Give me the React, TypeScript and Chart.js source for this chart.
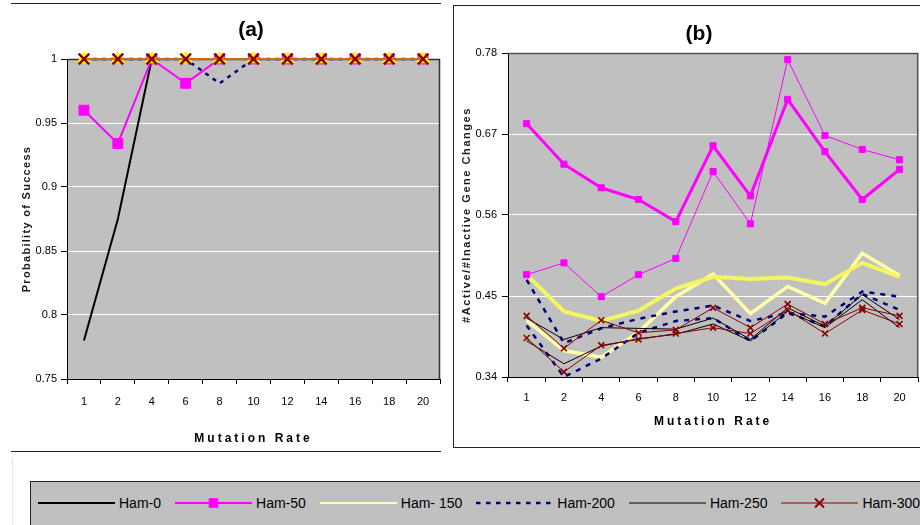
import React, { useEffect, useRef } from 'react';
import { Chart, registerables } from 'chart.js';

Chart.register(...registerables);

const FONT = 'Arial, "Liberation Sans", Helvetica, sans-serif';

// ---------------- data ----------------
const mutationRates = ['1', '2', '4', '6', '8', '10', '12', '14', '16', '18', '20'];
const seriesNames = ['Ham-0', 'Ham-50', 'Ham- 150', 'Ham-200', 'Ham-250', 'Ham-300'];

const yTicksA = [0.75, 0.8, 0.85, 0.9, 0.95, 1];
const yTicksB = [0.34, 0.45, 0.56, 0.67, 0.78];

// (a) Probability of success
const successHam0 = [0.78, 0.875, 1, 1, 1, 1, 1, 1, 1, 1, 1];
const successHam50 = [0.96, 0.934, 1, 0.981, 1, 1, 1, 1, 1, 1, 1];
const successHam150 = [1, 1, 1, 1, 1, 1, 1, 1, 1, 1, 1];
const successHam200 = [1, 1, 1, 1, 0.981, 1, 1, 1, 1, 1, 1];
const successHam250 = [1, 1, 1, 1, 1, 1, 1, 1, 1, 1, 1];
const successHam300 = [1, 1, 1, 1, 1, 1, 1, 1, 1, 1, 1];

// (b) #Active/#Inactive gene changes (two runs per Hamming setting)
const ratioHam50A = [0.684, 0.629, 0.597, 0.581, 0.551, 0.654, 0.586, 0.717, 0.646, 0.581, 0.622];
const ratioHam50B = [0.479, 0.495, 0.449, 0.479, 0.501, 0.619, 0.548, 0.771, 0.668, 0.649, 0.635];
const ratioHam150A = [0.479, 0.429, 0.416, 0.43, 0.46, 0.476, 0.473, 0.475, 0.466, 0.495, 0.476];
const ratioHam150B = [0.417, 0.376, 0.367, 0.401, 0.449, 0.48, 0.426, 0.463, 0.44, 0.508, 0.478];
const ratioHam200A = [0.472, 0.386, 0.406, 0.419, 0.429, 0.437, 0.416, 0.427, 0.422, 0.456, 0.449];
const ratioHam200B = [0.41, 0.34, 0.365, 0.4, 0.416, 0.42, 0.389, 0.427, 0.409, 0.453, 0.431];
const ratioHam250A = [0.42, 0.391, 0.407, 0.406, 0.405, 0.42, 0.391, 0.434, 0.409, 0.452, 0.418];
const ratioHam250B = [0.389, 0.358, 0.382, 0.392, 0.398, 0.412, 0.389, 0.429, 0.407, 0.445, 0.407];
const ratioHam300A = [0.423, 0.379, 0.417, 0.4, 0.404, 0.434, 0.407, 0.439, 0.412, 0.434, 0.423];
const ratioHam300B = [0.393, 0.347, 0.383, 0.391, 0.399, 0.407, 0.399, 0.431, 0.399, 0.431, 0.412];

// ---------------- plugins ----------------
const plotFrame = {
  id: 'plotFrame',
  beforeDraw(chart: any, _a: any, opts: any) {
    const { ctx, chartArea: a } = chart;
    ctx.save();
    ctx.fillStyle = opts.fill;
    ctx.fillRect(a.left, a.top, a.right - a.left, a.bottom - a.top);
    ctx.restore();
  },
  beforeDatasetsDraw(chart: any, _a: any, opts: any) {
    const { ctx, chartArea: a } = chart;
    ctx.save();
    ctx.strokeStyle = opts.stroke;
    ctx.lineWidth = opts.width || 1.5;
    ctx.beginPath();
    ctx.moveTo(a.left, a.top + 0.5);
    ctx.lineTo(a.right - 0.5, a.top + 0.5);
    ctx.lineTo(a.right - 0.5, a.bottom);
    ctx.stroke();
    ctx.restore();
  },
};

const titleShift = {
  id: 'titleShift',
  afterLayout(chart: any, _a: any, opts: any) {
    const t = chart.titleBlock;
    if (!t || opts.centerX == null) return;
    const half = (t.right - t.left) / 2;
    t.left = opts.centerX - half;
    t.right = opts.centerX + half;
  },
};

const axisTitleSpacing = {
  id: 'axisTitleSpacing',
  beforeDraw(chart: any, _a: any, opts: any) {
    Object.keys(chart.scales).forEach((id) => {
      const s = chart.scales[id];
      if (s.__spaced) return;
      const orig = s.drawTitle;
      const spacing = opts[id] || '0px';
      s.drawTitle = function (...args: any[]) {
        const ctx = this.ctx;
        ctx.save();
        ctx.letterSpacing = spacing;
        orig.apply(this, args);
        ctx.restore();
      };
      s.__spaced = true;
    });
  },
};

// ---------------- helpers ----------------
function ds(label: string, data: number[], s: any) {
  return {
    label,
    data,
    borderColor: s.color,
    backgroundColor: s.color,
    borderWidth: s.width,
    borderDash: s.dash || [],
    pointStyle: s.point || 'circle',
    pointRadius: s.point ? s.radius : 0,
    pointHoverRadius: s.point ? s.radius : 0,
    pointBackgroundColor: s.pointFill || s.color,
    pointBorderColor: s.pointStroke || s.color,
    pointBorderWidth: s.pointWidth ?? 1,
    order: s.order,
    clip: false,
    tension: 0,
  };
}

function axes(o: any) {
  const ticks: number[] = o.ticks;
  return {
    x: {
      type: 'category',
      labels: mutationRates,
      offset: true,
      grid: { offset: true, drawOnChartArea: false, drawTicks: true, tickLength: 5, tickColor: '#000', color: '#000' },
      border: { display: true, color: '#000', width: 1 },
      ticks: { autoSkip: false, maxRotation: 0, padding: o.xTickPad, color: '#000', font: { family: FONT, size: 11 } },
      title: {
        display: true,
        text: 'Mutation Rate',
        color: '#000',
        font: { family: FONT, size: 12, weight: 'bold' },
        padding: { top: 0, bottom: o.xTitlePad },
      },
      afterFit: (s: any) => {
        s.height = o.xHeight;
      },
    },
    y: {
      min: ticks[0],
      max: ticks[ticks.length - 1],
      afterBuildTicks: (s: any) => {
        s.ticks = ticks.map((v) => ({ value: v }));
      },
      ticks: {
        padding: o.yTickPad,
        color: '#000',
        font: { family: FONT, size: 11 },
        callback: (v: any) => String(v),
      },
      grid: {
        color: (c: any) => (c.tick && c.tick.value === ticks[0] ? 'rgba(0,0,0,0)' : '#ffffff'),
        tickColor: '#000',
        tickLength: 6,
        lineWidth: 1,
      },
      border: { display: true, color: '#000', width: 1 },
      title: {
        display: true,
        text: o.yTitle,
        color: '#1a1a1a',
        font: { family: FONT, size: 11, weight: 'bold' },
        padding: { top: o.yTitlePad, bottom: 0 },
      },
      afterFit: (s: any) => {
        s.width = o.yWidth;
      },
    },
  };
}

const MAGENTA = '#FF00FF';
const NAVY = '#000080';
const MAROON = '#8B0000';

function configA(): any {
  return {
    type: 'line',
    data: {
      labels: mutationRates,
      datasets: [
        ds(seriesNames[0], successHam0, { color: '#000', width: 2, order: 5 }),
        ds(seriesNames[1], successHam50, { color: MAGENTA, width: 2, point: 'rect', radius: 7, order: 2 }),
        ds(seriesNames[2], successHam150, { color: '#E8E800', width: 2, point: 'triangle', radius: 7.5, pointFill: '#FFFF00', pointStroke: '#FFFF00', order: 1 }),
        ds(seriesNames[3], successHam200, { color: NAVY, width: 2.5, dash: [4, 5], order: 3 }),
        ds(seriesNames[4], successHam250, { color: '#000', width: 1, order: 4 }),
        ds(seriesNames[5], successHam300, { color: '#C04020', width: 1.5, point: 'crossRot', radius: 7.5, pointStroke: MAROON, pointWidth: 2.5, order: 0 }),
      ],
    },
    options: {
      responsive: false,
      animation: false,
      devicePixelRatio: 1,
      events: [],
      layout: { padding: { left: 0, right: 9, top: 0, bottom: 0 } },
      plugins: {
        legend: { display: false },
        tooltip: { enabled: false },
        title: {
          display: true,
          text: '(a)',
          color: '#000',
          font: { family: FONT, size: 21, weight: 'bold' },
          padding: { top: 17.4, bottom: 16.4 },
        },
        plotFrame: { fill: '#C0C0C0', stroke: '#303030', width: 1.5 },
        titleShift: { centerX: 251 },
        axisTitleSpacing: { x: '3px', y: '1.3px' },
      },
      scales: axes({
        ticks: yTicksA,
        yTitle: 'Probability of Success',
        yWidth: 67,
        yTitlePad: 20.4,
        yTickPad: 4,
        xHeight: 72,
        xTickPad: 11,
        xTitlePad: 4.8,
      }),
    },
    plugins: [plotFrame, titleShift, axisTitleSpacing],
  };
}

function configB(): any {
  const redPt = { point: 'crossRot', radius: 4.2, pointStroke: MAROON, pointWidth: 1.6 };
  return {
    type: 'line',
    data: {
      labels: mutationRates,
      datasets: [
        ds(seriesNames[1], ratioHam50A, { color: MAGENTA, width: 3, point: 'rect', radius: 4.3, order: 0 }),
        ds(seriesNames[1], ratioHam50B, { color: MAGENTA, width: 1, point: 'rect', radius: 4.3, order: 0 }),
        ds(seriesNames[5], ratioHam300A, { color: MAROON, width: 1, ...redPt, order: 1 }),
        ds(seriesNames[5], ratioHam300B, { color: MAROON, width: 1, ...redPt, order: 1 }),
        ds(seriesNames[4], ratioHam250A, { color: '#000', width: 1, order: 2 }),
        ds(seriesNames[4], ratioHam250B, { color: '#000', width: 1, order: 2 }),
        ds(seriesNames[3], ratioHam200A, { color: NAVY, width: 2.5, dash: [5, 6], order: 3 }),
        ds(seriesNames[3], ratioHam200B, { color: NAVY, width: 2.5, dash: [5, 6], order: 3 }),
        ds(seriesNames[2], ratioHam150A, { color: '#F5F560', width: 4, order: 4 }),
        ds(seriesNames[2], ratioHam150B, { color: '#FFFFAA', width: 3.5, order: 5 }),
      ],
    },
    options: {
      responsive: false,
      animation: false,
      devicePixelRatio: 1,
      events: [],
      layout: { padding: { left: 0, right: 0, top: 0, bottom: 0 } },
      plugins: {
        legend: { display: false },
        tooltip: { enabled: false },
        title: {
          display: true,
          text: '(b)',
          color: '#000',
          font: { family: FONT, size: 21, weight: 'bold' },
          padding: { top: 21.4, bottom: 6.4 },
        },
        plotFrame: { fill: '#C0C0C0', stroke: '#505050', width: 1.5 },
        titleShift: { centerX: 244 },
        axisTitleSpacing: { x: '3px', y: '1.55px' },
      },
      scales: axes({
        ticks: yTicksB,
        yTitle: '#Active/#Inactive Gene Changes',
        yWidth: 53,
        yTitlePad: 5.4,
        yTickPad: 5,
        xHeight: 56,
        xTickPad: 9.5,
        xTitlePad: 3.8,
      }),
    },
    plugins: [plotFrame, titleShift, axisTitleSpacing],
  };
}

function ChartCanvas({ make, left, top, width, height }: any) {
  const ref = useRef<HTMLCanvasElement | null>(null);
  useEffect(() => {
    const chart = new Chart(ref.current as HTMLCanvasElement, make());
    return () => chart.destroy();
  }, []);
  return (
    <canvas
      ref={ref}
      width={width}
      height={height}
      style={{ position: 'absolute', left, top, width, height, display: 'block' }}
    />
  );
}

// ---------------- legend ----------------
const legendStyle: Record<string, any> = {
  'Ham-0': { color: '#000000', width: 2 },
  'Ham-50': { color: MAGENTA, width: 2, marker: 'square' },
  'Ham- 150': { color: '#FFFFB8', width: 2 },
  'Ham-200': { color: NAVY, width: 2.5, dash: '4.5 5.5' },
  'Ham-250': { color: '#000000', width: 1 },
  'Ham-300': { color: MAROON, width: 1, marker: 'x' },
};

function LegendSample({ name }: { name: string }) {
  const s = legendStyle[name];
  return (
    <svg width={77} height={16} style={{ display: 'block', flex: '0 0 auto' }}>
      <line x1={0} y1={8} x2={77} y2={8} stroke={s.color} strokeWidth={s.width} strokeDasharray={s.dash || undefined} />
      {s.marker === 'square' && <rect x={33.7} y={3.2} width={9.6} height={9.6} fill={s.color} />}
      {s.marker === 'x' && (
        <g stroke={s.color} strokeWidth={2}>
          <line x1={34} y1={3.5} x2={43} y2={12.5} />
          <line x1={43} y1={3.5} x2={34} y2={12.5} />
        </g>
      )}
    </svg>
  );
}

export default function App() {
  return (
    <div
      style={{
        position: 'fixed',
        left: 0,
        top: 0,
        width: 920,
        height: 525,
        overflow: 'hidden',
        background: '#fff',
      }}
    >
      {/* panel (a) rules */}
      <div style={{ position: 'absolute', left: 11, top: 3, width: 430, borderTop: '1px solid #222' }} />
      <div style={{ position: 'absolute', left: 11, top: 451, width: 430, borderTop: '1px solid #222' }} />
      <div style={{ position: 'absolute', left: 12, top: 458, height: 70, borderLeft: '1px solid #e2e2e2' }} />
      {/* panel (b) frame */}
      <div
        style={{
          position: 'absolute',
          left: 453,
          top: 5,
          width: 500,
          height: 441,
          border: '1px solid #222',
          boxSizing: 'content-box',
        }}
      />
      <ChartCanvas make={configA} left={0} top={0} width={450} height={451} />
      <ChartCanvas make={configB} left={455} top={0} width={469} height={433} />
      {/* legend */}
      <div
        style={{
          position: 'absolute',
          left: 30,
          top: 481,
          width: 920,
          height: 60,
          border: '1px solid #222',
          background: '#C0C0C0',
        }}
      >
        <div
          style={{
            position: 'absolute',
            left: 7,
            top: 13,
            height: 16,
            display: 'flex',
            alignItems: 'center',
            whiteSpace: 'nowrap',
          }}
        >
          {seriesNames.map((n) => (
            <div key={n} style={{ display: 'flex', alignItems: 'center', marginRight: 14 }}>
              <LegendSample name={n} />
              <span
                style={{
                  marginLeft: 4,
                  fontFamily: FONT,
                  fontSize: 14,
                  lineHeight: '16px',
                  color: '#000',
                }}
              >
                {n}
              </span>
            </div>
          ))}
        </div>
      </div>
    </div>
  );
}
